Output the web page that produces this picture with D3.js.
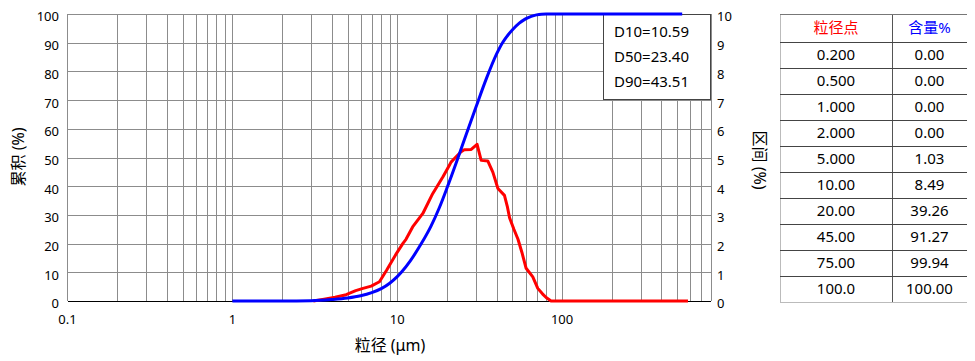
<!DOCTYPE html>
<html>
<head>
  <meta charset="utf-8">
  <title>粒径分布</title>
  <script src="https://cdnjs.cloudflare.com/ajax/libs/d3/7.8.5/d3.min.js"></script>
  <style>
    body { margin: 0; background: #fff; }
    text { font-family: "Noto Sans", "Noto Sans CJK SC", sans-serif; }
  </style>
</head>
<body>
  <script>
    // 累积分布 (左轴 %)
    const cumSize = [1, 2, 3, 4, 5, 6, 7, 8, 9, 10, 10.59, 12, 14, 16, 18, 20, 23.4, 26, 30, 35, 40, 43.51, 45, 50, 55, 60, 65, 70, 75, 80, 100, 535];
    const cumPct  = [0, 0, 0.1, 0.5, 1.03, 1.8, 2.9, 4.3, 6.2, 8.49, 10, 14, 20, 26, 32.5, 39.26, 50, 57.5, 67.5, 78, 86, 90, 91.27, 94.5, 96.8, 98.3, 99.2, 99.7, 99.94, 100, 100, 100];

    // 区间分布 (右轴 %)
    const difSize = [3.1, 3.6, 4.2, 4.9, 5.6, 6.2, 6.95, 7.8, 8.6, 9.9, 10.8, 11.3, 12.4, 14.3, 16.4, 18.9, 20.8, 21.2, 23, 24.4, 25.5, 28.1, 30.5, 32.3, 35.4, 38, 40.8, 44.7, 46.5, 48, 51, 54, 57, 60.5, 66.4, 71.2, 76, 80, 85.7, 120, 200, 580];
    const difPct  = [0, 0.06, 0.13, 0.22, 0.36, 0.44, 0.52, 0.67, 1.06, 1.66, 2.0, 2.15, 2.58, 3.05, 3.74, 4.32, 4.75, 4.84, 5.05, 5.2, 5.27, 5.28, 5.46, 4.9, 4.88, 4.49, 3.92, 3.68, 3.3, 2.9, 2.5, 2.15, 1.7, 1.14, 0.84, 0.44, 0.25, 0.12, 0, 0, 0, 0];

    const dLabels = ["D10=10.59", "D50=23.40", "D90=43.51"];

    const tableSize = ["0.200", "0.500", "1.000", "2.000", "5.000", "10.00", "20.00", "45.00", "75.00", "100.0"];
    const tablePct  = ["0.00", "0.00", "0.00", "0.00", "1.03", "8.49", "39.26", "91.27", "99.94", "100.00"];

    const xTickValues = [0.1, 1, 10, 100];
    const yTickValues = d3.range(0, 101, 10);
    const y2TickValues = d3.range(0, 11, 1);

    const width = 975, height = 361;
    const plotL = 67.5, plotR = 711, plotT = 14, plotB = 301;
    const gridColor = "#8c8c8c";

    const svg = d3.select("body")
      .append("svg")
      .attr("width", width)
      .attr("height", height);

    const x = d3.scaleLog().domain([0.1, 800]).range([plotL, plotR]);
    const y = d3.scaleLinear().domain([0, 100]).range([plotB, plotT]);
    const y2 = d3.scaleLinear().domain([0, 10]).range([plotB, plotT]);

    // grille verticale : 1..9 de chaque décade
    const vGrid = [];
    for (let dec = 0.1; dec < 800; dec *= 10) {
      for (let k = 1; k <= 9; k++) {
        const v = +(dec * k).toPrecision(3);
        if (v > 0.1 && v <= 800) vGrid.push(v);
      }
    }

    const grid = svg.append("g")
      .attr("stroke", gridColor)
      .attr("stroke-width", 1)
      .attr("shape-rendering", "crispEdges");

    grid.selectAll("line.v")
      .data(vGrid)
      .enter()
      .append("line")
      .attr("x1", d => Math.round(x(d)) + 0.5)
      .attr("x2", d => Math.round(x(d)) + 0.5)
      .attr("y1", plotT)
      .attr("y2", plotB);

    grid.selectAll("line.h")
      .data(yTickValues)
      .enter()
      .append("line")
      .attr("x1", plotL)
      .attr("x2", plotR)
      .attr("y1", d => Math.round(y(d)) + 0.5)
      .attr("y2", d => Math.round(y(d)) + 0.5);

    // bord gauche
    grid.append("line")
      .attr("x1", plotL).attr("x2", plotL)
      .attr("y1", plotT).attr("y2", plotB);

    // axe x noir
    svg.append("line")
      .attr("x1", plotL).attr("x2", plotR)
      .attr("y1", plotB + 0.5).attr("y2", plotB + 0.5)
      .attr("stroke", "#000")
      .attr("shape-rendering", "crispEdges");

    // étiquettes des axes
    svg.append("g")
      .selectAll("text")
      .data(yTickValues)
      .enter()
      .append("text")
      .attr("x", 59)
      .attr("y", d => y(d) + 4)
      .attr("text-anchor", "end")
      .attr("dominant-baseline", "middle")
      .attr("font-size", 13)
      .text(d => d);

    svg.append("g")
      .selectAll("text")
      .data(y2TickValues)
      .enter()
      .append("text")
      .attr("x", 717)
      .attr("y", d => y2(d) + 4)
      .attr("dominant-baseline", "middle")
      .attr("font-size", 13)
      .text(d => d);

    svg.append("g")
      .selectAll("text")
      .data(xTickValues)
      .enter()
      .append("text")
      .attr("x", d => x(d))
      .attr("y", 321)
      .attr("text-anchor", "middle")
      .attr("dominant-baseline", "middle")
      .attr("font-size", 13)
      .text(d => d);

    svg.append("text")
      .attr("transform", "translate(20,157) rotate(-90)")
      .attr("text-anchor", "middle")
      .attr("dominant-baseline", "middle")
      .attr("font-size", 16)
      .text("累积 (%)");

    svg.append("text")
      .attr("transform", "translate(758,160) rotate(90)")
      .attr("text-anchor", "middle")
      .attr("dominant-baseline", "middle")
      .attr("font-size", 16)
      .text("区间 (%)");

    svg.append("text")
      .attr("x", 390)
      .attr("y", 347)
      .attr("text-anchor", "middle")
      .attr("dominant-baseline", "middle")
      .attr("font-size", 16)
      .text("粒径 (μm)");

    // boîte D10/D50/D90
    const box = svg.append("g");
    box.append("rect")
      .attr("x", 603.5).attr("y", plotT + 0.5)
      .attr("width", 107).attr("height", 85)
      .attr("fill", "#fff")
      .attr("stroke", "#444");
    box.selectAll("text")
      .data(dLabels)
      .enter()
      .append("text")
      .attr("x", 614)
      .attr("y", (d, i) => 33 + i * 25)
      .attr("dominant-baseline", "middle")
      .attr("font-size", 15)
      .text(d => d);

    // courbes
    const difLine = d3.line()
      .x((d, i) => x(difSize[i]))
      .y(d => y2(d));

    svg.append("path")
      .attr("d", difLine(difPct))
      .attr("fill", "none")
      .attr("stroke", "#ff0000")
      .attr("stroke-width", 3)
      .attr("stroke-linejoin", "round");

    const cumLine = d3.line()
      .x((d, i) => x(cumSize[i]))
      .y(d => y(d))
      .curve(d3.curveMonotoneX);

    svg.append("path")
      .attr("d", cumLine(cumPct))
      .attr("fill", "none")
      .attr("stroke", "#0000ff")
      .attr("stroke-width", 3);

    // tableau
    const tLeft = 780, tMid = 892, tRight = 967;
    const rowY = d3.scaleLinear().domain([0, 1]).range([42, 68]);
    const table = svg.append("g").attr("shape-rendering", "crispEdges");

    table.append("line")
      .attr("x1", tLeft + 0.5).attr("x2", tLeft + 0.5)
      .attr("y1", plotT).attr("y2", rowY(tableSize.length))
      .attr("stroke", "#bbb");
    table.append("line")
      .attr("x1", tMid + 0.5).attr("x2", tMid + 0.5)
      .attr("y1", plotT).attr("y2", rowY(tableSize.length))
      .attr("stroke", "#555");
    table.append("line")
      .attr("x1", tLeft).attr("x2", tRight)
      .attr("y1", plotT + 0.5).attr("y2", plotT + 0.5)
      .attr("stroke", "#777");

    table.selectAll("line.row")
      .data(d3.range(0, tableSize.length + 1))
      .enter()
      .append("line")
      .attr("x1", tLeft).attr("x2", tRight)
      .attr("y1", d => Math.round(rowY(d)) + 0.5)
      .attr("y2", d => Math.round(rowY(d)) + 0.5)
      .attr("stroke", (d, i) => i === tableSize.length ? "#bbb" : "#444");

    table.append("text")
      .attr("x", (tLeft + tMid) / 2).attr("y", 29)
      .attr("text-anchor", "middle").attr("dominant-baseline", "middle")
      .attr("font-size", 15).attr("fill", "#ff0000")
      .text("粒径点");
    table.append("text")
      .attr("x", (tMid + tRight) / 2).attr("y", 29)
      .attr("text-anchor", "middle").attr("dominant-baseline", "middle")
      .attr("font-size", 15).attr("fill", "#0000ff")
      .text("含量%");

    table.selectAll("text.size")
      .data(tableSize)
      .enter()
      .append("text")
      .attr("x", (tLeft + tMid) / 2)
      .attr("y", (d, i) => rowY(i + 0.5) + 1)
      .attr("text-anchor", "middle").attr("dominant-baseline", "middle")
      .attr("font-size", 15)
      .text(d => d);

    table.selectAll("text.pct")
      .data(tablePct)
      .enter()
      .append("text")
      .attr("x", (tMid + tRight) / 2)
      .attr("y", (d, i) => rowY(i + 0.5) + 1)
      .attr("text-anchor", "middle").attr("dominant-baseline", "middle")
      .attr("font-size", 15)
      .text(d => d);
  </script>
</body>
</html>
